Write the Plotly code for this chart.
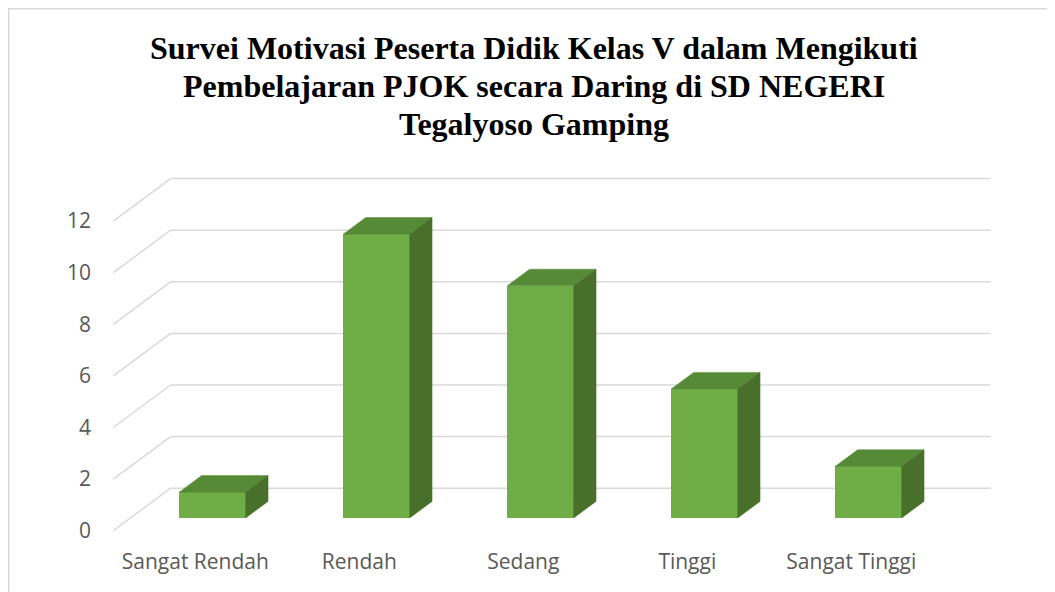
import plotly.graph_objects as go

# ---- data ----
categories = ["Sangat Rendah", "Rendah", "Sedang", "Tinggi", "Sangat Tinggi"]
values = [1, 11, 9, 5, 2]
y_ticks = [0, 2, 4, 6, 8, 10, 12]

title_lines = ["Survei Motivasi Peserta Didik Kelas V dalam Mengikuti",
               "Pembelajaran PJOK secara Daring di SD NEGERI",
               "Tegalyoso Gamping"]

# ---- styling / projection (figure pixel coords; page body adds 8px) ----
W, H = 1055, 592
OFF = 8
ML, MR, MT, MB = 92, 0, 150, 61
PX_PER_CAT = 164.0
PX_PER_UNIT = 25.8
X0_PX = 195.3 - OFF   # pixel of category 0 on the front plane
Y0_PX = 530.7 - OFF   # pixel of value 0 on the front plane

DEPTH_DX = 57.3 / PX_PER_CAT     # oblique depth offset in category units
DEPTH_DY = 42.5 / PX_PER_UNIT    # oblique depth offset in value units
D_FRONT, D_BACK = 0.3, 0.69
BAR_W = 0.405

FRONT = "#70AD47"
TOP = "#568A36"
SIDE = "#48702A"
GRID = "#D9D9D9"
TEXT = "#595959"

pw = W - ML - MR
ph = H - MT - MB

def px_x(p):
    return (p - ML) / pw

def px_y(p):
    return ((H - MB) - p) / ph

xr = [(ML - X0_PX) / PX_PER_CAT, (W - MR - X0_PX) / PX_PER_CAT]
yr = [(Y0_PX - (H - MB)) / PX_PER_UNIT, (Y0_PX - MT) / PX_PER_UNIT]

fig = go.Figure()

n = len(categories)
fx, fy = D_FRONT * DEPTH_DX, D_FRONT * DEPTH_DY
bx, by = D_BACK * DEPTH_DX, D_BACK * DEPTH_DY

# front faces
fig.add_trace(go.Bar(
    x=[i + fx for i in range(n)], y=values, base=[fy] * n, width=BAR_W,
    marker=dict(color=FRONT, line=dict(width=0)),
    showlegend=False, hoverinfo="skip"))

# top and side faces
for i, v in enumerate(values):
    xl, xrt = i - BAR_W / 2, i + BAR_W / 2
    fig.add_trace(go.Scatter(
        x=[xl + fx, xrt + fx, xrt + bx, xl + bx, xl + fx],
        y=[v + fy, v + fy, v + by, v + by, v + fy],
        fill="toself", fillcolor=TOP, mode="lines",
        line=dict(color=TOP, width=0.5), showlegend=False, hoverinfo="skip"))
    fig.add_trace(go.Scatter(
        x=[xrt + fx, xrt + fx, xrt + bx, xrt + bx, xrt + fx],
        y=[fy, v + fy, v + by, by, fy],
        fill="toself", fillcolor=SIDE, mode="lines",
        line=dict(color=SIDE, width=0.5), showlegend=False, hoverinfo="skip"))

# 3D gridlines (left wall slant + back wall)
shapes = []
x_left, x_right = -0.5, n - 0.5
for t in y_ticks:
    shapes.append(dict(type="line", xref="x", yref="y", layer="below",
                       x0=x_left, y0=t, x1=x_left + DEPTH_DX, y1=t + DEPTH_DY,
                       line=dict(color=GRID, width=1.5)))
    shapes.append(dict(type="line", xref="x", yref="y", layer="below",
                       x0=x_left + DEPTH_DX, y0=t + DEPTH_DY,
                       x1=x_right + DEPTH_DX, y1=t + DEPTH_DY,
                       line=dict(color=GRID, width=1.5)))

# chart frame
shapes.append(dict(type="rect", xref="paper", yref="paper", layer="below",
                   x0=px_x(0.75), x1=px_x(W + 10),
                   y0=px_y(H + 10), y1=px_y(0.75),
                   line=dict(color=GRID, width=1.5), fillcolor="rgba(0,0,0,0)"))

# title (three centred lines)
title_y = [48, 86, 124]
annotations = []
for line, yc in zip(title_lines, title_y):
    annotations.append(dict(
        text="<b>%s</b>" % line, xref="paper", yref="paper",
        x=px_x(534 - OFF), y=px_y(yc - OFF), xanchor="center", yanchor="middle",
        showarrow=False,
        font=dict(family="Liberation Serif", size=32, color="black")))

fig.update_layout(
    width=W, height=H,
    margin=dict(l=ML, r=MR, t=MT, b=MB),
    paper_bgcolor="white", plot_bgcolor="white",
    xaxis=dict(range=xr, tickvals=list(range(n)), ticktext=categories,
               showgrid=False, zeroline=False, showline=False, ticks="",
               tickfont=dict(family="Open Sans", size=21, color=TEXT),
               ticklabelstandoff=8, fixedrange=True),
    yaxis=dict(range=yr, tickvals=y_ticks, ticktext=[str(t) for t in y_ticks],
               showgrid=False, zeroline=False, showline=False, ticks="",
               tickfont=dict(family="Open Sans", size=21, color=TEXT),
               ticklabelstandoff=8, fixedrange=True),
    shapes=shapes,
    annotations=annotations,
    bargap=0,
)

fig.write_html("out.html")
